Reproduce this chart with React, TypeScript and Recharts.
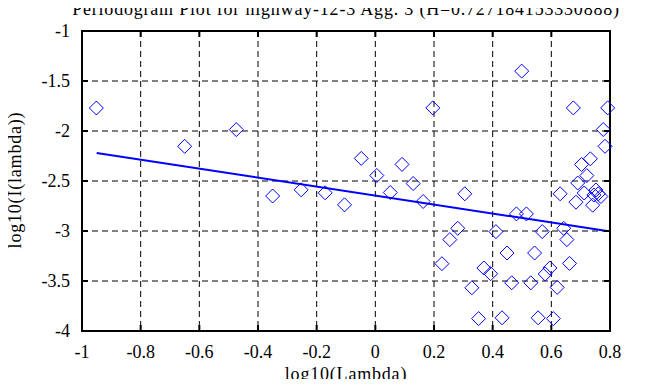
import { ScatterChart, Scatter, XAxis, YAxis, CartesianGrid, ReferenceArea, ReferenceLine } from "recharts";

const lambdaX = [
  -0.951, -0.65, -0.474, -0.35, -0.253, -0.171, -0.105, -0.048, 0.005, 0.051, 0.091, 0.129, 0.163, 0.196,
  0.305, 0.499, 0.675, 0.792, 0.777, 0.783, 0.733, 0.703, 0.721, 0.69, 0.63, 0.712, 0.752, 0.76, 0.769,
  0.745, 0.684, 0.741, 0.481, 0.515, 0.281, 0.254, 0.411, 0.569, 0.642, 0.653, 0.227, 0.449, 0.543, 0.662,
  0.37, 0.393, 0.595, 0.579, 0.465, 0.53, 0.329, 0.62, 0.352, 0.432, 0.555, 0.607,
];
const periodY = [
  -1.77, -2.153, -1.986, -2.65, -2.588, -2.618, -2.738, -2.274, -2.445, -2.615, -2.334, -2.525, -2.705, -1.769,
  -2.628, -1.401, -1.769, -1.769, -1.985, -2.153, -2.278, -2.335, -2.446, -2.52, -2.628, -2.62, -2.59, -2.628, -2.655,
  -2.64, -2.712, -2.742, -2.829, -2.829, -2.973, -3.086, -3.006, -3.006, -2.973, -3.086, -3.327, -3.22, -3.22, -3.324,
  -3.37, -3.427, -3.37, -3.43, -3.518, -3.518, -3.568, -3.564, -3.876, -3.868, -3.868, -3.876,
];
// least squares fit endpoints as drawn
const fitX = [-0.95, 0.79];
const fitY = [-2.22, -3.0];

const xTicks = [-1, -0.8, -0.6, -0.4, -0.2, 0, 0.2, 0.4, 0.6, 0.8];
const yTicks = [-4, -3.5, -3, -2.5, -2, -1.5, -1];

const points = lambdaX.map((x, i) => ({ x, y: periodY[i] }));

const font = "Liberation Serif";
const W = 663;
const H = 387;
const M = { top: 31, right: 53, bottom: 0, left: 0 };
const X_AXIS_H = 56;
const Y_AXIS_W = 82;
const PLOT_X = M.left + Y_AXIS_W;
const PLOT_Y = M.top;
const PLOT_W = W - M.left - M.right - Y_AXIS_W;
const PLOT_H = H - M.top - M.bottom - X_AXIS_H;
const TICK = 6;
const XM = 13;
const YM = 12;

const textStyle = { fontFamily: font, fontSize: 18, color: "#000", letterSpacing: "0.8px", lineHeight: "20px" };

const BottomTick = (props: any) => {
  const { x, y, payload } = props;
  return (
    <g>
      <line x1={x} x2={x} y1={y - XM} y2={y - XM - TICK} stroke="black" strokeWidth={2} />
      <line x1={x} x2={x} y1={y - XM - PLOT_H} y2={y - XM - PLOT_H + TICK} stroke="black" strokeWidth={2} />
      <text x={x} y={y} dy="0.75em" textAnchor="middle" fontFamily={font} fontSize={18} fill="black">
        {String(payload.value)}
      </text>
    </g>
  );
};
const LeftTick = (props: any) => {
  const { x, y, payload } = props;
  return (
    <g>
      <line x1={x + YM} x2={x + YM + TICK} y1={y} y2={y} stroke="black" strokeWidth={2} />
      <line x1={x + YM + PLOT_W} x2={x + YM + PLOT_W - TICK} y1={y} y2={y} stroke="black" strokeWidth={2} />
      <text x={x} y={y} dy="0.35em" textAnchor="end" fontFamily={font} fontSize={18} fill="black">
        {String(payload.value)}
      </text>
    </g>
  );
};

const Diamond = (props: any) => {
  const { cx, cy } = props;
  if (typeof cx !== "number" || typeof cy !== "number" || isNaN(cx) || isNaN(cy)) return <g />;
  const r = 7;
  return (
    <polygon
      points={`${cx},${cy - r} ${cx + r},${cy} ${cx},${cy + r} ${cx - r},${cy}`}
      fill="none"
      stroke="#0000ff"
      strokeWidth={1}
    />
  );
};

export default function App() {
  return (
    <div style={{ position: "relative", width: W, height: H, margin: -8, background: "#fff" }}>
      <svg width={W} height={H} style={{ position: "absolute", left: 0, top: 0 }}>
        <line x1={PLOT_X} x2={PLOT_X + PLOT_W} y1={PLOT_Y} y2={PLOT_Y} stroke="black" strokeWidth={2} />
        <line x1={PLOT_X} x2={PLOT_X + PLOT_W} y1={PLOT_Y + PLOT_H} y2={PLOT_Y + PLOT_H} stroke="black" strokeWidth={2} />
        <line x1={PLOT_X} x2={PLOT_X} y1={PLOT_Y} y2={PLOT_Y + PLOT_H} stroke="black" strokeWidth={2} />
        <line x1={PLOT_X + PLOT_W} x2={PLOT_X + PLOT_W} y1={PLOT_Y} y2={PLOT_Y + PLOT_H} stroke="black" strokeWidth={2} />
      </svg>
      <ScatterChart width={W} height={H} margin={M}>
        <CartesianGrid stroke="#000" strokeDasharray="6 4" />
        <XAxis
          type="number"
          dataKey="x"
          domain={[-1, 0.8]}
          ticks={xTicks}
          height={X_AXIS_H}
          axisLine={{ stroke: "black", strokeWidth: 2 }}
          tickLine={false}
          tickSize={0}
          tickMargin={XM}
          tick={<BottomTick />}
        />
        <YAxis
          type="number"
          dataKey="y"
          domain={[-4, -1]}
          ticks={yTicks}
          width={Y_AXIS_W}
          axisLine={{ stroke: "black", strokeWidth: 2 }}
          tickLine={false}
          tickSize={0}
          tickMargin={YM}
          tick={<LeftTick />}
        />
        <ReferenceArea x1={-1} x2={0.8} y1={-4} y2={-1} fill="white" fillOpacity={0} stroke="black" strokeWidth={2} />
        <ReferenceLine
          segment={[
            { x: fitX[0], y: fitY[0] },
            { x: fitX[1], y: fitY[1] },
          ]}
          stroke="#0000ff"
          strokeWidth={2}
        />
        <Scatter data={points} shape={Diamond} fill="#0000ff" isAnimationActive={false} />
      </ScatterChart>
      <div style={{ ...textStyle, position: "absolute", left: 0, width: 692, top: -1, textAlign: "center" }}>
        Periodogram Plot for highway-12-3 Agg. 3 (H=0.727184153330888)
      </div>
      <div style={{ ...textStyle, position: "absolute", left: PLOT_X, width: PLOT_W, top: 364, textAlign: "center" }}>
        log10(Lambda)
      </div>
      <div
        style={{
          ...textStyle,
          position: "absolute",
          left: 15 - 100,
          top: 180 - 10,
          width: 200,
          textAlign: "center",
          transform: "rotate(-90deg)",
        }}
      >
        log10(I(lambda))
      </div>
    </div>
  );
}
